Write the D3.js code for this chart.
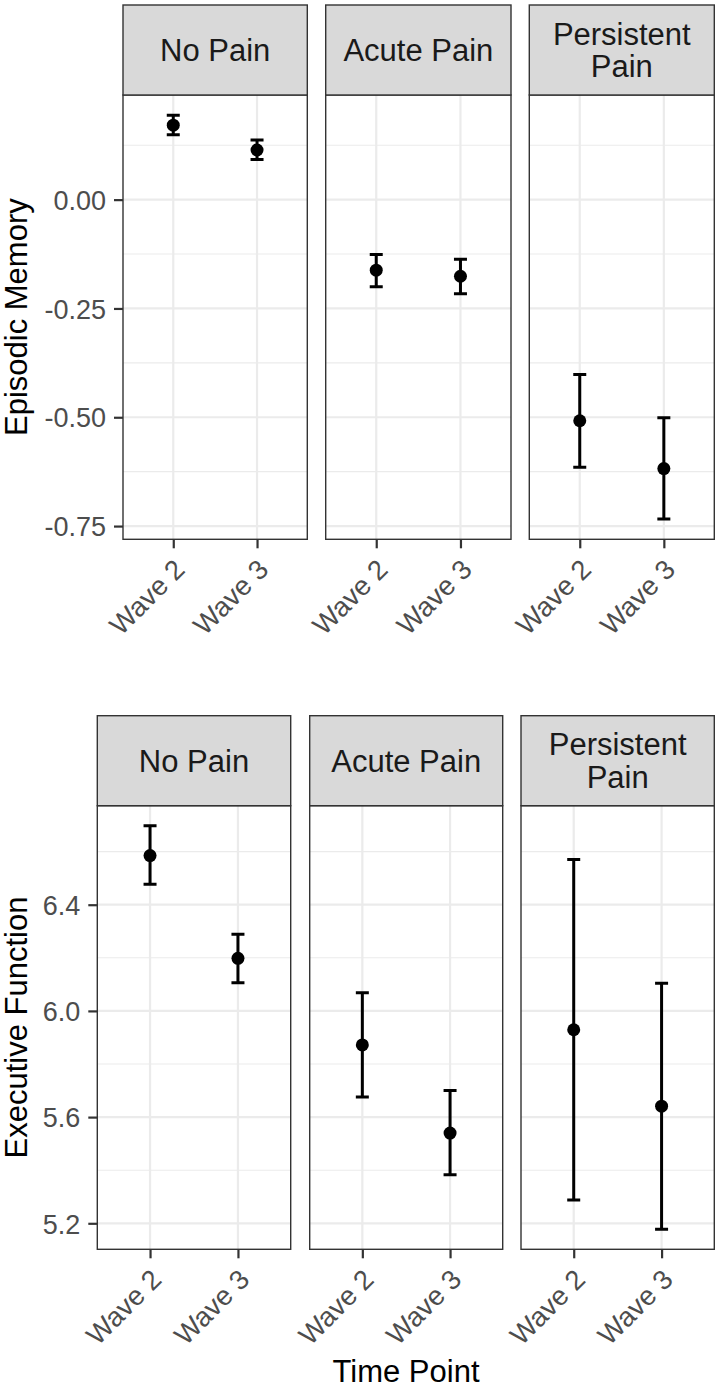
<!DOCTYPE html>
<html>
<head>
<meta charset="utf-8">
<script src="https://cdn.jsdelivr.net/npm/d3@7"></script>
<style>
  html, body { margin: 0; padding: 0; background: #fff; }
  svg { display: block; font-family: "Liberation Sans", Arial, Helvetica, sans-serif; }
</style>
</head>
<body>
<svg id="chart" width="720" height="1389"></svg>
<script>
// ---------------- Data ----------------
const facets = ["No Pain", "Acute Pain", "Persistent Pain"];
const facetLines = [["No Pain"], ["Acute Pain"], ["Persistent", "Pain"]];
const waves = ["Wave 2", "Wave 3"];

// Episodic Memory: mean, lower, upper per facet per wave
const memMean  = [[0.171, 0.114], [-0.162, -0.176], [-0.508, -0.618]];
const memLower = [[0.149, 0.092], [-0.200, -0.216], [-0.615, -0.734]];
const memUpper = [[0.194, 0.137], [-0.126, -0.137], [-0.402, -0.501]];
const memTicks = [-0.75, -0.50, -0.25, 0.00];
const memTickLabels = ["-0.75", "-0.50", "-0.25", "0.00"];

// Executive Function
const exeMean  = [[6.585, 6.198], [5.872, 5.540], [5.929, 5.641]];
const exeLower = [[6.477, 6.106], [5.676, 5.383], [5.288, 5.178]];
const exeUpper = [[6.697, 6.289], [6.068, 5.700], [6.570, 6.104]];
const exeTicks = [5.2, 5.6, 6.0, 6.4];
const exeTickLabels = ["5.2", "5.6", "6.0", "6.4"];

const yTitles = ["Episodic Memory", "Executive Function"];
const xTitle = "Time Point";

// ---------------- Drawing ----------------
const svg = d3.select("#chart");
const C = {
  border: "#333333", grid: "#EBEBEB", strip: "#D9D9D9",
  stripText: "#1A1A1A", tickText: "#4D4D4D"
};
const FS = { tick: 27, xtick: 27.5, strip: 31, title: 31 };

function drawPlot(opt) {
  const g = svg.append("g");
  const rows = [];
  facets.forEach((f, i) => waves.forEach((w, j) => rows.push({
    facet: i, wave: w, mean: opt.mean[i][j], lo: opt.lower[i][j], hi: opt.upper[i][j]
  })));
  const lo = d3.min(rows, d => d.lo), hi = d3.max(rows, d => d.hi);
  const pad = (hi - lo) * 0.05;
  const y = d3.scaleLinear().domain([lo - pad, hi + pad]).range([opt.panelBottom, opt.panelTop]);

  const step = opt.ticks[1] - opt.ticks[0];
  const minor = [];
  for (let v = opt.ticks[0] - step / 2; v <= y.domain()[1]; v += step) {
    if (v >= y.domain()[0]) minor.push(v);
  }

  facets.forEach((f, i) => {
    const [x0, x1] = opt.panels[i];
    const x = d3.scalePoint().domain(waves).range([x0, x1]).padding(0.6);
    const pg = g.append("g");

    pg.append("rect").attr("x", x0).attr("y", opt.panelTop)
      .attr("width", x1 - x0).attr("height", opt.panelBottom - opt.panelTop).attr("fill", "#fff");
    pg.selectAll(".ming").data(minor).join("line")
      .attr("x1", x0).attr("x2", x1).attr("y1", d => y(d)).attr("y2", d => y(d))
      .attr("stroke", C.grid).attr("stroke-width", 1.1);
    pg.selectAll(".majg").data(opt.ticks).join("line")
      .attr("x1", x0).attr("x2", x1).attr("y1", d => y(d)).attr("y2", d => y(d))
      .attr("stroke", C.grid).attr("stroke-width", 2.2);
    pg.selectAll(".majx").data(waves).join("line")
      .attr("x1", d => x(d)).attr("x2", d => x(d)).attr("y1", opt.panelTop).attr("y2", opt.panelBottom)
      .attr("stroke", C.grid).attr("stroke-width", 2.2);

    const rs = rows.filter(r => r.facet === i);
    const cap = 6.5;
    pg.selectAll(".eb").data(rs).join("path")
      .attr("d", d => `M${x(d.wave) - cap},${y(d.hi)}H${x(d.wave) + cap}M${x(d.wave)},${y(d.hi)}V${y(d.lo)}M${x(d.wave) - cap},${y(d.lo)}H${x(d.wave) + cap}`)
      .attr("fill", "none").attr("stroke", "#000").attr("stroke-width", 3);
    pg.selectAll(".pt").data(rs).join("circle")
      .attr("cx", d => x(d.wave)).attr("cy", d => y(d.mean)).attr("r", 6.5).attr("fill", "#000");

    pg.append("rect").attr("x", x0).attr("y", opt.panelTop)
      .attr("width", x1 - x0).attr("height", opt.panelBottom - opt.panelTop)
      .attr("fill", "none").attr("stroke", C.border).attr("stroke-width", 1.4);

    pg.append("rect").attr("x", x0).attr("y", opt.stripTop)
      .attr("width", x1 - x0).attr("height", opt.panelTop - opt.stripTop)
      .attr("fill", C.strip).attr("stroke", C.border).attr("stroke-width", 1.4);
    const lines = facetLines[i];
    const cy = (opt.stripTop + opt.panelTop) / 2;
    const lh = 32.6;
    lines.forEach((t, k) => {
      pg.append("text").attr("x", (x0 + x1) / 2)
        .attr("y", cy + 11 + (k - (lines.length - 1) / 2) * lh)
        .attr("text-anchor", "middle").attr("font-size", FS.strip).attr("fill", C.stripText).text(t);
    });

    const xa = d3.axisBottom(x).tickSize(9).tickPadding(0).tickFormat("");
    const xg = pg.append("g").attr("transform", `translate(0,${opt.panelBottom})`).call(xa);
    xg.select(".domain").remove();
    xg.selectAll(".tick line").attr("stroke", C.border).attr("stroke-width", 2.2);
    waves.forEach(w => {
      pg.append("text")
        .attr("transform", `translate(${x(w) + 13},${opt.panelBottom + 32}) rotate(-45)`)
        .attr("text-anchor", "end")
        .attr("font-size", FS.xtick).attr("fill", C.tickText).text(w);
    });
  });

  const px0 = opt.panels[0][0];
  const ya = d3.axisLeft(y).tickValues(opt.ticks).tickSize(9).tickPadding(8)
    .tickFormat((d, k) => opt.tickLabels[k]);
  const yg = g.append("g").attr("transform", `translate(${px0},0)`).call(ya);
  yg.select(".domain").remove();
  yg.selectAll(".tick line").attr("stroke", C.border).attr("stroke-width", 2.2);
  yg.selectAll(".tick text").attr("font-size", FS.tick).attr("fill", C.tickText)
    .attr("font-family", "'Liberation Sans', Arial, sans-serif").attr("dy", "0.36em");

  const cyT = (opt.panelTop + opt.panelBottom) / 2;
  g.append("text").attr("transform", `translate(27,${cyT}) rotate(-90)`)
    .attr("text-anchor", "middle").attr("font-size", FS.title).attr("fill", "#000").text(opt.title);
}

drawPlot({
  mean: memMean, lower: memLower, upper: memUpper,
  ticks: memTicks, tickLabels: memTickLabels, title: yTitles[0],
  panels: [[123, 307.3], [325.7, 511], [529.3, 714.3]],
  stripTop: 5, panelTop: 95, panelBottom: 539.3
});

drawPlot({
  mean: exeMean, lower: exeLower, upper: exeUpper,
  ticks: exeTicks, tickLabels: exeTickLabels, title: yTitles[1],
  panels: [[97.3, 290.7], [309.7, 502.7], [521, 714.3]],
  stripTop: 715.7, panelTop: 805.7, panelBottom: 1249.3
});

svg.append("text").attr("x", 406).attr("y", 1382).attr("text-anchor", "middle")
  .attr("font-size", FS.title).attr("fill", "#000").text(xTitle);
</script>
</body>
</html>
